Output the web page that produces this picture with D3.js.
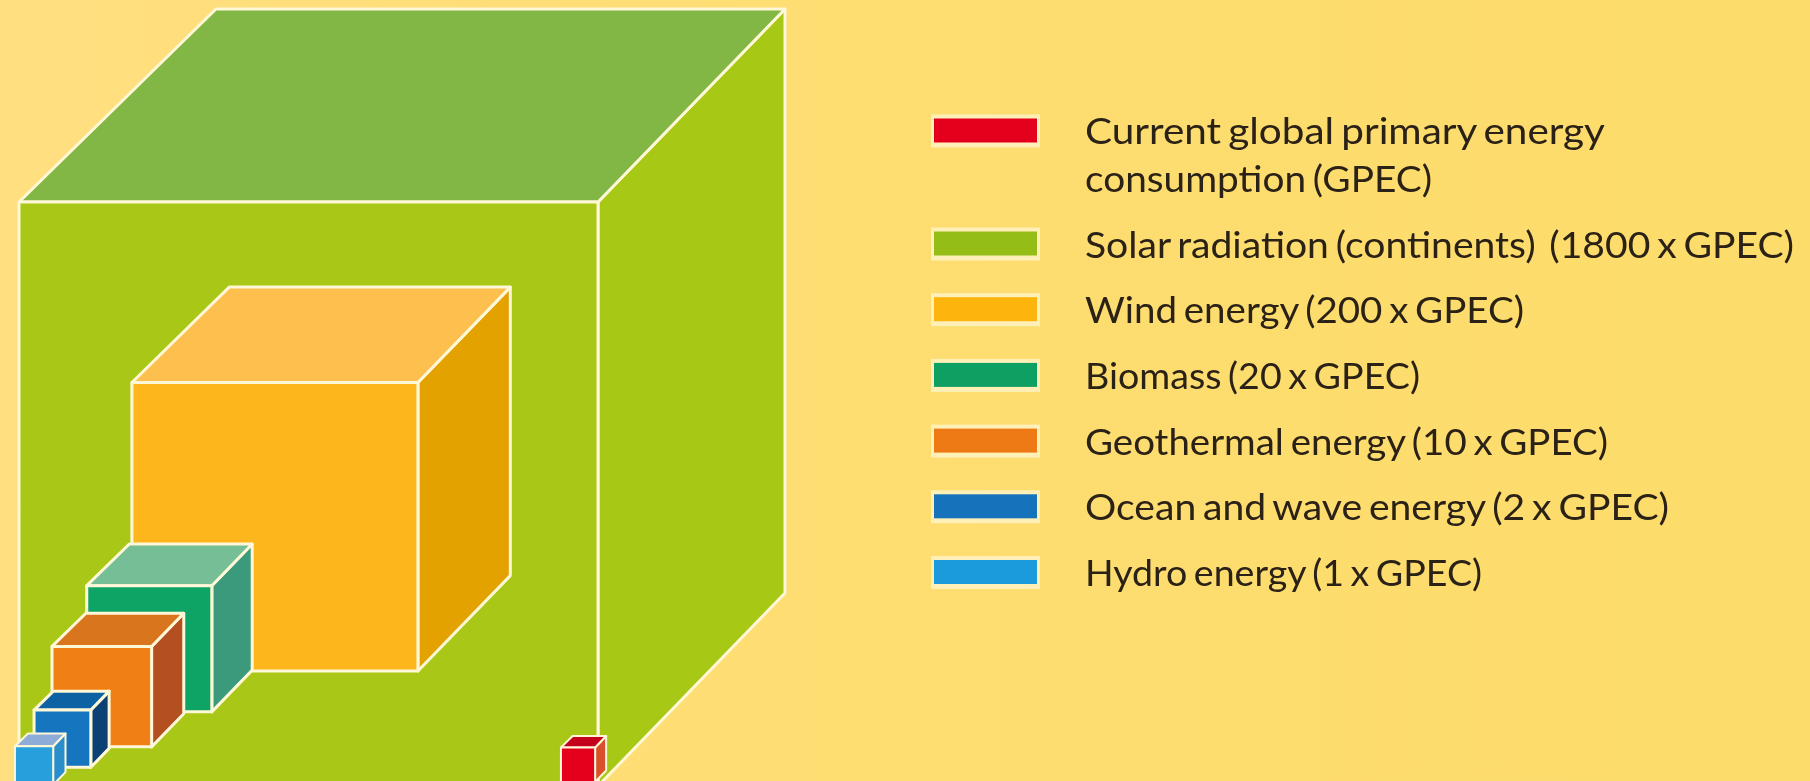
<!DOCTYPE html>
<html>
<head>
<meta charset="utf-8">
<script src="https://d3js.org/d3.v7.min.js"></script>
<style>
  html, body { margin: 0; padding: 0; background: #fddc6e; }
  svg { display: block; }
  text { font-family: Lato, sans-serif; fill: #2b2016; white-space: pre; }
</style>
</head>
<body>
<div id="chart"></div>
<script>
var width = 1810,
    height = 781;

// Values, big cube front edge = 100 units
var names = ["Solar radiation", "Wind energy", "Biomass", "Geothermal energy", "Ocean and wave energy", "Hydro energy", "Current GPEC"];
var multiples = [1800, 200, 20, 10, 2, 1, 1];
var edges = [100, 49.4, 21.6, 17.2, 9.8, 6.6, 5.9];
var lefts = [0, 19.5, 11.7, 5.7, 2.6, -0.7, 93.6];
var floors = [0, 19.7, 12.7, 6.7, 3.2, 0.2, 0.7];

var frontColors = ["#a9c712", "#fdb71f", "#0fa465", "#f07f12", "#1275bf", "#259fdc", "#e4001f"];
var topColors = ["#82b744", "#fdbf4e", "#75be96", "#d9741e", "#0c62a4", "#8dadd8", "#c4001c"];
var sideColors = ["#a8c812", "#e3a205", "#3a9a7c", "#b44f22", "#0b3f74", "#2a8ecc", "#d9512b"];

// Legend, top to bottom
var legendLines = [
  ["Current global primary energy", "consumption (GPEC)"],
  ["Solar radiation (continents)  (1800 x GPEC)"],
  ["Wind energy (200 x GPEC)"],
  ["Biomass (20 x GPEC)"],
  ["Geothermal energy (10 x GPEC)"],
  ["Ocean and wave energy (2 x GPEC)"],
  ["Hydro energy (1 x GPEC)"]
];
var legendColors = ["#e4001f", "#94bd17", "#fdb50d", "#0fa062", "#ee7a14", "#1272bb", "#1f9bdc"];
var legendWidths = [[520, 347], [709], [439], [335], [523], [584], [397]];  // rendered length of each line

var x = d3.scaleLinear().domain([0, 100]).range([19, 598]);
var y = d3.scaleLinear().domain([0, 100]).range([786, 202]);
var depthX = d3.scaleLinear().domain([0, 100]).range([0, 187]);
var depthY = d3.scaleLinear().domain([0, 100]).range([0, 193]);
var inset = d3.scaleLinear().domain([0, 100]).range([0, 10]);  // back face is a bit narrower
var legendY = d3.scaleLinear().domain([0, 5]).range([243.5, 572]);

var line = d3.line();

var svg = d3.select("#chart").append("svg")
    .attr("width", width)
    .attr("height", height);

var defs = svg.append("defs");
defs.append("filter").attr("id", "soft")
    .append("feGaussianBlur").attr("stdDeviation", 0.7);
var bg = defs.append("linearGradient").attr("id", "paper");
bg.append("stop").attr("offset", "0%").attr("stop-color", "#ffdf80");
bg.append("stop").attr("offset", "45%").attr("stop-color", "#fedd72");
bg.append("stop").attr("offset", "100%").attr("stop-color", "#fcdc6a");

svg.append("rect")
    .attr("width", width)
    .attr("height", height)
    .attr("fill", "url(#paper)");

var cubes = d3.range(names.length).map(function(i) {
  return { name: names[i], multiple: multiples[i], edge: edges[i], left: lefts[i], floor: floors[i], i: i };
});

function corners(d) {
  var x0 = x(d.left),
      x1 = x(d.left + d.edge),
      y0 = y(d.floor + d.edge),
      y1 = y(d.floor),
      dx = depthX(d.edge),
      dy = depthY(d.edge);
  return {
    front: [[x0, y0], [x1, y0], [x1, y1], [x0, y1]],
    top: [[x0, y0], [x0 + dx + inset(d.edge), y0 - dy], [x1 + dx, y0 - dy], [x1, y0]],
    side: [[x1, y0], [x1 + dx, y0 - dy], [x1 + dx, y1 - dy], [x1, y1]]
  };
}

var cube = svg.append("g").attr("filter", "url(#soft)")
  .selectAll(".cube")
    .data(cubes)
  .enter().append("g")
    .attr("class", "cube");

cube.append("title").text(function(d) { return d.name + ": " + d.multiple + " x GPEC"; });

[["side", sideColors], ["top", topColors], ["front", frontColors]].forEach(function(face) {
  cube.append("path")
      .attr("d", function(d) { return line(corners(d)[face[0]]) + "Z"; })
      .attr("fill", function(d) { return face[1][d.i]; })
      .attr("stroke", "#fff8d8")
      .attr("stroke-width", function(d) { return d.edge < 8 ? 2 : 3; })
      .attr("stroke-linejoin", "round");
});

var legend = svg.append("g").attr("filter", "url(#soft)")
  .selectAll(".legend")
    .data(legendLines)
  .enter().append("g")
    .attr("class", "legend")
    .attr("transform", function(d, i) {
      return "translate(0," + legendY(i === 0 ? -1.72 : i - 1) + ")";
    });

legend.append("rect")
    .attr("x", 931)
    .attr("y", -16)
    .attr("width", 109)
    .attr("height", 33)
    .attr("fill", "#fff6cf")
    .attr("opacity", 0.75);

legend.append("rect")
    .attr("x", 934)
    .attr("y", -12)
    .attr("width", 103)
    .attr("height", 24)
    .attr("fill", function(d, i) { return legendColors[i]; });

legend.each(function(lines, row) {
  d3.select(this).selectAll("text")
      .data(lines)
    .enter().append("text")
      .attr("x", 1085)
      .attr("y", function(d, i) { return 14 + i * 48; })
      .attr("textLength", function(d, i) { return legendWidths[row][i]; })
      .attr("lengthAdjust", "spacingAndGlyphs")
      .style("font-size", "37px")
      .style("word-spacing", "-3px")
      .text(function(d) { return d; });
});
</script>
</body>
</html>
